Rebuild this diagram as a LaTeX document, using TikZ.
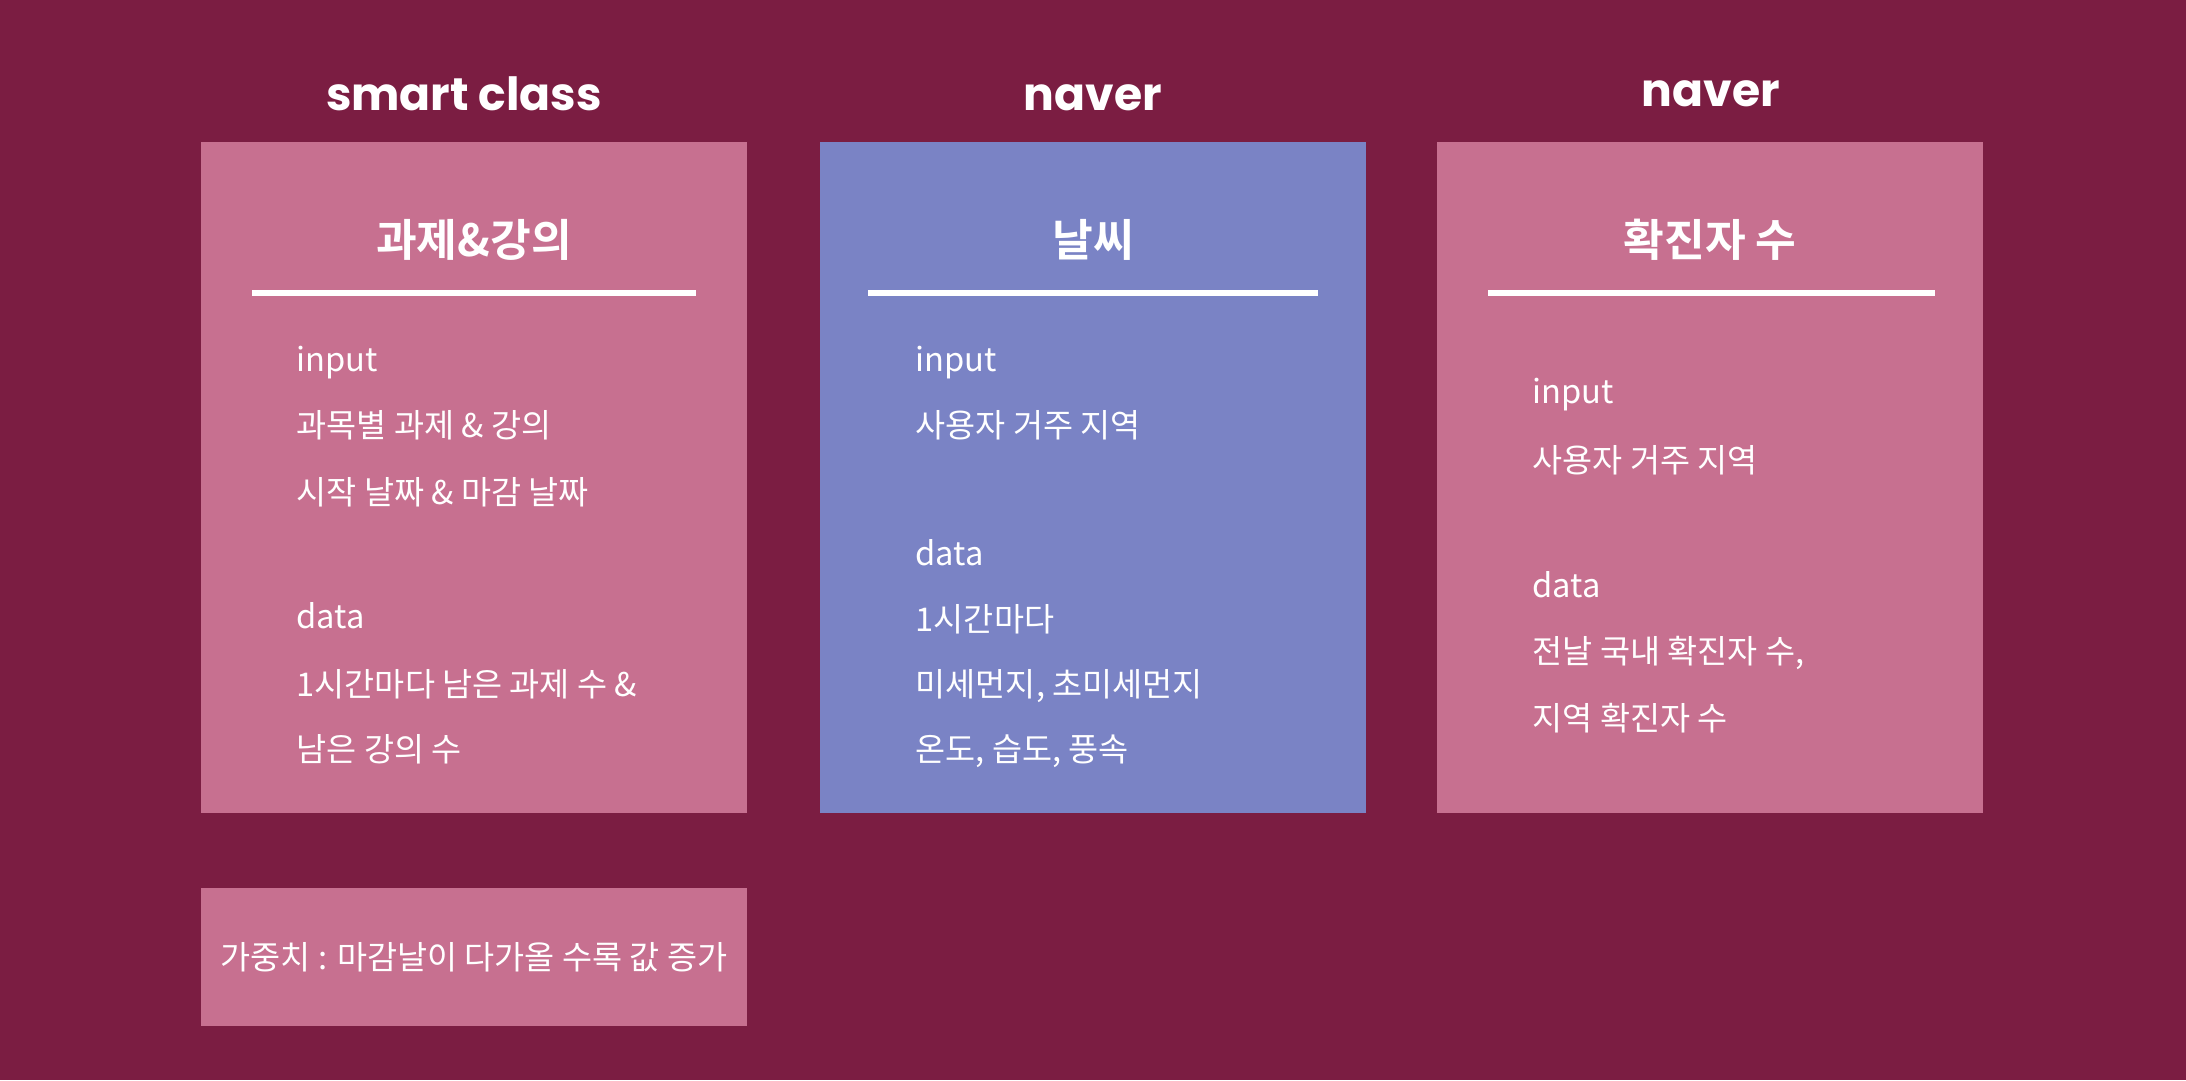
\documentclass[tikz,border=0pt]{standalone}
\usepackage{fontspec}
\usepackage{tikz}
\usetikzlibrary{positioning}
\newfontfamily\krfont{Noto Sans CJK KR}[BoldFont={Noto Sans CJK KR Bold}]
\newfontfamily\popfont{Poppins}
\definecolor{bgwine}{HTML}{7B1D42}
\definecolor{boxpink}{HTML}{C77090}
\definecolor{boxblue}{HTML}{7A83C5}

\begin{document}
\begin{tikzpicture}[panel/.style={rectangle,inner sep=0pt,minimum width=5.46cm,minimum height=6.71cm},
                    site/.style={anchor=base,text=white,font=\popfont\bfseries\fontsize{13}{15}\selectfont},
                    topic/.style={anchor=base,text=white,font=\krfont\bfseries\fontsize{12.6}{15}\selectfont},
                    line/.style={anchor=base west,inner sep=0pt,text=white,font=\krfont\fontsize{9.3}{11}\selectfont},
                    rule/.style={white,line width=1.8pt}]
  \fill[bgwine] (0,0) rectangle (21.86,10.80);
  \useasboundingbox (0,0) rectangle (21.86,10.80);

  \node[panel,fill=boxpink] (task) at (4.74,6.025) {};
  \node[panel,fill=boxblue] (weather) at (10.93,6.025) {};
  \node[panel,fill=boxpink] (covid) at (17.10,6.025) {};
  \node[panel,fill=boxpink,minimum height=1.38cm] (weight) at (4.74,1.23)
    {\krfont\color{white}\fontsize{9.3}{11}\selectfont 가중치 : 마감날이 다가올 수록 값 증가};

  \node[site] (s1) at (4.64,9.69) {smart class};
  \node[site] (s2) at (10.93,9.69) {naver};
  \node[site] (s3) at (17.11,9.73) {naver};

  \node[topic] (t1) at (4.74,8.23) {과제\&강의};
  \node[topic] (t2) at (10.93,8.23) {날씨};
  \node[topic] (t3) at (17.10,8.23) {확진자 수};

  \draw[rule] (2.52,7.87) -- (6.96,7.87);
  \draw[rule] (8.68,7.87) -- (13.18,7.87);
  \draw[rule] (14.88,7.87) -- (19.35,7.87);

  % smart class
  \node[line] (a1) at (2.96,7.08) {input};
  \node[line] (a2) at (2.96,6.42) {과목별 과제 \& 강의};
  \node[line] (a3) at (2.96,5.75) {시작 날짜 \& 마감 날짜};
  \node[line] (a4) at (2.96,4.51) {data};
  \node[line] (a5) at (2.96,3.83) {1시간마다 남은 과제 수 \&};
  \node[line] (a6) at (2.96,3.18) {남은 강의 수};

  % weather
  \node[line] (b1) at (9.15,7.08) {input};
  \node[line] (b2) at (9.15,6.42) {사용자 거주 지역};
  \node[line] (b3) at (9.15,5.14) {data};
  \node[line] (b4) at (9.15,4.48) {1시간마다};
  \node[line] (b5) at (9.15,3.83) {미세먼지, 초미세먼지};
  \node[line] (b6) at (9.15,3.18) {온도, 습도, 풍속};

  % covid
  \node[line] (c1) at (15.32,6.76) {input};
  \node[line] (c2) at (15.32,6.07) {사용자 거주 지역};
  \node[line] (c3) at (15.32,4.82) {data};
  \node[line] (c4) at (15.32,4.16) {전날 국내 확진자 수,};
  \node[line] (c5) at (15.32,3.49) {지역 확진자 수};

\end{tikzpicture}
\end{document}
